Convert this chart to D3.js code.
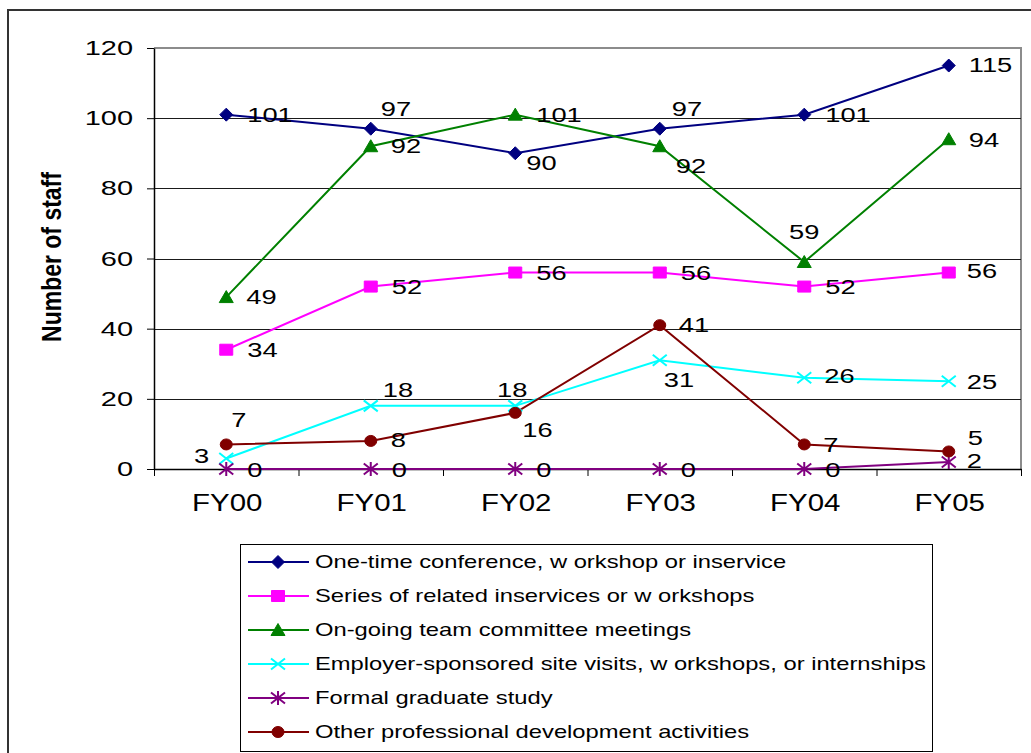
<!DOCTYPE html>
<html>
<head>
<meta charset="utf-8">
<script src="https://cdn.jsdelivr.net/npm/d3@7"></script>
<style>
  html, body { margin: 0; padding: 0; background: #fff; }
  svg { display: block; }
  text { font-family: "Liberation Sans", Arial, sans-serif; fill: #000; }
</style>
</head>
<body>
<svg id="chart" width="1031" height="753"></svg>
<script>
// Fiscal years and yearly staff counts per professional development activity
const categories = ["FY00", "FY01", "FY02", "FY03", "FY04", "FY05"];
const oneTime     = [101, 97, 90, 97, 101, 115];
const series      = [34, 52, 56, 56, 52, 56];
const onGoing     = [49, 92, 101, 92, 59, 94];
const employer    = [3, 18, 18, 31, 26, 25];
const graduate    = [0, 0, 0, 0, 0, 2];
const other       = [7, 8, 16, 41, 7, 5];
const yTicks      = [0, 20, 40, 60, 80, 100, 120];
const seriesNames = [
  "One-time conference, w orkshop or inservice",
  "Series of related inservices or w orkshops",
  "On-going team committee meetings",
  "Employer-sponsored site visits, w orkshops, or internships",
  "Formal graduate study",
  "Other professional development activities"
];
const yTitle = "Number of staff";

// Per-series styling
const styles = [
  { color: "#000080", marker: "diamond" },
  { color: "#FF00FF", marker: "square" },
  { color: "#008000", marker: "triangle" },
  { color: "#00FFFF", marker: "cross" },
  { color: "#800080", marker: "star" },
  { color: "#800000", marker: "circle" }
];

// Value-label placement relative to each point: [dx, dy, anchor]
const R = [21, 0, "start"];
const labelPlacement = [
  [R, [10, -20, "start"], [11, 9, "start"], [12, -20, "start"], R, [20, -1, "start"]],
  [R, R, R, R, R, [18, -2, "start"]],
  [[20, -1, "start"], [20, -1, "start"], R, [16, 19, "start"], [0, -31, "middle"], [20, 0, "start"]],
  [[-17, -3, "end"], [12, -16, "start"], [-3, -16, "middle"], [4, 19, "start"], [20, -2, "start"], [18, 0, "start"]],
  [R, R, R, R, R, [18, -1, "start"]],
  [[5, -25, "start"], [20, -1, "start"], [7, 17, "start"], [19, -1, "start"], [19, 0, "start"], [19, -14, "start"]]
];

const allSeries = [oneTime, series, onGoing, employer, graduate, other];

const svg = d3.select("#chart");

// Outer chart frame (extends past the right and bottom edges)
svg.append("rect")
  .attr("x", 8).attr("y", 10).attr("width", 1040).attr("height", 760)
  .attr("fill", "none").attr("stroke", "#333").attr("stroke-width", 2);

const plot = { left: 154, right: 1021, top: 48, bottom: 469 };

const x = d3.scaleBand().domain(categories).range([plot.left, plot.right]);
const xEdge = d3.scaleLinear().domain([0, categories.length]).range([plot.left, plot.right]);
const y = d3.scaleLinear().domain([0, 120]).range([plot.bottom, plot.top]);
const cx = c => x(c) + x.bandwidth() / 2;

// Plot area border (top and right)
svg.append("path")
  .attr("d", `M${plot.left},${plot.top}H${plot.right}V${plot.bottom}`)
  .attr("fill", "none").attr("stroke", "#8c8c8c").attr("stroke-width", 2);

// Horizontal gridlines
svg.append("g")
  .selectAll("line")
  .data(yTicks.filter(t => t > 0 && t < 120))
  .join("line")
  .attr("x1", plot.left).attr("x2", plot.right)
  .attr("y1", d => Math.round(y(d)) + 0.5).attr("y2", d => Math.round(y(d)) + 0.5)
  .attr("stroke", "#1a1a1a").attr("stroke-width", 1);

// Y axis
const yAxis = svg.append("g")
  .attr("transform", `translate(${plot.left},0)`)
  .call(d3.axisLeft(y).tickValues(yTicks).tickSize(7).tickSizeOuter(0));
yAxis.select(".domain").attr("stroke", "#000").attr("stroke-width", 1.5);
yAxis.selectAll(".tick line").attr("stroke", "#000");
yAxis.selectAll(".tick text")
  .attr("x", null).attr("dy", null)
  .attr("y", 6.5)
  .attr("transform", "translate(-21,0) scale(1.38,1)")
  .style("font-size", "21px")
  .attr("text-anchor", "end");

// X axis: boundary ticks
const xTickAxis = svg.append("g")
  .attr("transform", `translate(0,${plot.bottom})`)
  .call(d3.axisBottom(xEdge).tickValues(d3.range(categories.length + 1)).tickFormat("").tickSize(7).tickSizeOuter(0));
xTickAxis.select(".domain").attr("stroke", "#000").attr("stroke-width", 1.5);
xTickAxis.selectAll(".tick line").attr("stroke", "#000");

// X axis: category labels
const xLabelAxis = svg.append("g")
  .attr("transform", `translate(0,${plot.bottom})`)
  .call(d3.axisBottom(x).tickSize(0));
xLabelAxis.select(".domain").remove();
xLabelAxis.selectAll(".tick text")
  .attr("y", null).attr("dy", null)
  .attr("transform", "translate(1,42) scale(1.28,1)")
  .attr("text-anchor", "middle")
  .style("font-size", "23px");

// Y axis title
svg.append("text")
  .attr("transform", "translate(61,257) rotate(-90) scale(1,1.2)")
  .attr("text-anchor", "middle")
  .style("font-size", "23px")
  .style("font-weight", "bold")
  .text(yTitle);

// Marker shapes
function markerPath(kind) {
  switch (kind) {
    case "diamond":  return "M0,-6.5L6.5,0L0,6.5L-6.5,0Z";
    case "square":   return "M-6.5,-5.5h13v11h-13Z";
    case "triangle": return "M0,-6.5L7,5.5L-7,5.5Z";
    case "cross":    return "M-7,-5.5L7,5.5M-7,5.5L7,-5.5";
    case "star":     return "M-7,-5.5L7,5.5M-7,5.5L7,-5.5M0,-7V7";
    case "circle":   return "M-6,0a6,5.5 0 1,0 12,0a6,5.5 0 1,0 -12,0Z";
  }
}
const stroked = k => k === "cross" || k === "star";

function drawMarker(g, kind, color) {
  g.append("path")
    .attr("d", markerPath(kind))
    .attr("fill", stroked(kind) ? "none" : color)
    .attr("stroke", color)
    .attr("stroke-width", stroked(kind) ? 2 : 1);
}

const line = d3.line().x((d, i) => cx(categories[i])).y(d => y(d));

// Series lines, then their markers
const seriesG = svg.append("g");
allSeries.forEach((vals, si) => {
  seriesG.append("path")
    .datum(vals)
    .attr("d", line)
    .attr("fill", "none")
    .attr("stroke", styles[si].color)
    .attr("stroke-width", 2);
});
allSeries.forEach((vals, si) => {
  vals.forEach((v, i) => {
    const g = seriesG.append("g")
      .attr("transform", `translate(${cx(categories[i])},${y(v)})`);
    drawMarker(g, styles[si].marker, styles[si].color);
  });
});

// Value labels
allSeries.forEach((vals, si) => {
  vals.forEach((v, i) => {
    const [dx, dy, anchor] = labelPlacement[si][i];
    svg.append("text")
      .attr("transform", `translate(${cx(categories[i]) + dx},${y(v) + dy + 7.5}) scale(1.3,1)`)
      .attr("text-anchor", anchor)
      .style("font-size", "21px")
      .text(v);
  });
});

// Legend
const legend = svg.append("g");
legend.append("rect")
  .attr("x", 240.5).attr("y", 544.5).attr("width", 692).attr("height", 207)
  .attr("fill", "#fff").attr("stroke", "#000").attr("stroke-width", 1);
seriesNames.forEach((name, si) => {
  const cy = 562 + si * 34;
  legend.append("line")
    .attr("x1", 248).attr("x2", 309).attr("y1", cy).attr("y2", cy)
    .attr("stroke", styles[si].color).attr("stroke-width", 2);
  const mg = legend.append("g").attr("transform", `translate(278,${cy})`);
  drawMarker(mg, styles[si].marker, styles[si].color);
  legend.append("text")
    .attr("transform", `translate(315,${cy + 6}) scale(1.25,1)`)
    .style("font-size", "19px")
    .text(name);
});
</script>
</body>
</html>
